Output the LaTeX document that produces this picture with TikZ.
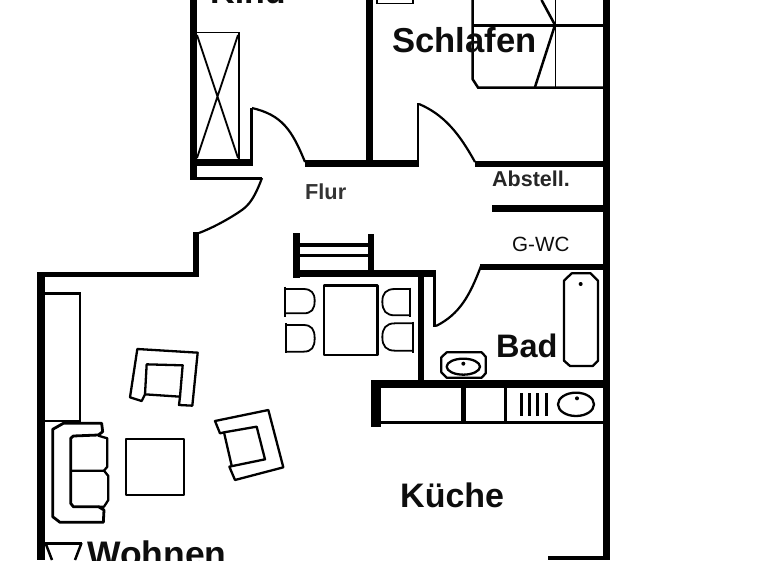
\documentclass[tikz,border=0pt]{standalone}
\usepackage{fontspec}
\setmainfont{Liberation Sans}
\tikzset{
  wall/.style={fill=black,draw=none},
  thinl/.style={draw=black,line width=1.8pt},
  med/.style={draw=black,line width=2.5pt},
  door/.style={draw=black,line width=2.2pt},
  zooma/.style={shift={(30,260)},x=0.33333pt,y=-0.33333pt},
  zoomb/.style={shift={(270,260)},x=0.33333pt,y=-0.33333pt},
  furn/.style={draw=black,line width=2.3pt,line join=round},
  seat/.style={draw=black,line width=1.8pt},
  lab/.style={anchor=base west,inner sep=0pt,text=black!95},
}
\begin{document}
\begin{tikzpicture}[x=1pt,y=-1pt]
\useasboundingbox (0,0) rectangle (768,560);
\clip (0,0) rectangle (768,560);
\fill[white] (0,0) rectangle (768,560);
% walls
\fill[wall] (190,0) rectangle (197,178);
\fill[wall] (197,159) rectangle (252,166);
\fill[wall] (250,108) rectangle (252.5,166);
\fill[wall] (305,160) rectangle (419,167);
\fill[wall] (366,0) rectangle (373,165);
\fill[wall] (417,103) rectangle (419,167);
\fill[wall] (475,160.5) rectangle (606,167);
\fill[wall] (603,0) rectangle (610,560);
\fill[wall] (492,205) rectangle (606,212);
\fill[wall] (190,177) rectangle (262,179.5);
\fill[wall] (193,232) rectangle (199,277);
\fill[wall] (37,272) rectangle (199,277);
\fill[wall] (37,272) rectangle (45,560);
% stairs
\fill[wall] (293,233) rectangle (300,278);
\fill[wall] (368,234) rectangle (374,272);
\fill[wall] (300,243) rectangle (368,246.5);
\fill[wall] (300,254) rectangle (368,256.5);
\fill[wall] (293,270) rectangle (436,277);
\fill[wall] (433,270) rectangle (436,327);
\fill[wall] (418,277) rectangle (424,382);
\fill[wall] (480,264) rectangle (606,270);
% kitchen
\fill[wall] (371,380) rectangle (606,388);
\fill[wall] (371,380) rectangle (380.5,427);
\fill[wall] (380,421) rectangle (606,423.5);
\fill[wall] (461,385) rectangle (466,423);
\fill[wall] (504,385) rectangle (506.5,423);
\fill[wall] (548,556) rectangle (606,560);
% door arcs
\draw[door] (252,108) .. controls (282,115) and (292,130) .. (305,162);
\draw[door] (419,104) .. controls (445,115) and (460,135) .. (475,162);
\draw[door] (262,178) .. controls (252,205) and (245,208) .. (236,214) .. controls (225,221) and (212,228) .. (199,233);
\draw[door] (436,326) .. controls (460,314) and (470,295) .. (481,266);
% wardrobe in Kind
\draw[thinl] (197,32.5) -- (239,32.5) -- (239,160);
\draw[thinl] (197,35) -- (238,158) (238,35) -- (197,158);
% bed
\draw[med] (472.5,0) -- (472.5,79) -- (478,87.5) -- (603,87.5);
\draw[med,line width=3pt] (473,25) -- (603,25);
\draw[draw=black,line width=1.2pt] (555.5,0) -- (555.5,87);
\draw[med] (541.5,0) -- (555,25) -- (535,87);
\draw[thinl] (377,0) -- (377,3.5) -- (413,3.5) -- (413,0);
% Wohnen furniture
\draw[med] (45,293.5) -- (80,293.5) -- (80,421) -- (45,421);
\fill[wall] (45,542) rectangle (82,544.5);
\draw[med] (45.5,543) -- (52,560) (81.5,543) -- (75,560);
\begin{scope}[zooma]
  \draw[furn,line width=2.8pt] (215,490) -- (100,490) -- (68,508) -- (68,770) -- (90,787) -- (220,787) -- (222,750) -- (205,740) -- (130,740) -- (122,730) -- (122,535) -- (130,528) -- (205,525) -- (218,515) -- cycle;
  \draw[furn] (205,527) -- (232,535) -- (232,620) -- (222,632) -- (125,632);
  \draw[furn] (222,632) -- (235,648) -- (235,720) -- (222,740) -- (205,740);
  \draw[furn,line width=2.8pt] (288,537) rectangle (462,705);
  \draw[furn] (322,267) -- (503,278) -- (487,437) -- (447,435) -- (450,410) -- (345,403) -- (335,423) -- (300,412) -- cycle;
  \draw[furn] (345,403) -- (350,313) -- (458,316) -- (450,410);
  \draw[furn] (555,483) -- (715,450) -- (760,622) -- (615,660) -- (598,620) -- (705,598) -- (680,500) -- (582,517) -- (570,520) -- cycle;
  \draw[furn] (582,517) -- (605,617);
\end{scope}
% dining and bath
\begin{scope}[zoomb]
  \draw[furn,line width=2.8pt] (162,77) rectangle (322,285);
  \draw[furn] (45,80) -- (45,170);
  \draw[seat] (45,87) -- (100,87) .. controls (125,87) and (134,100) .. (134,122) .. controls (134,148) and (125,160) .. (100,160) -- (45,160);
  \draw[furn] (47,190) -- (47,280);
  \draw[seat] (47,195) -- (100,195) .. controls (125,195) and (134,208) .. (134,235) .. controls (134,262) and (125,275) .. (100,275) -- (47,275);
  \draw[furn] (420,83) -- (420,170);
  \draw[seat] (420,87) -- (375,87) .. controls (348,87) and (337,100) .. (337,125) .. controls (337,152) and (348,166) .. (375,166) -- (420,166);
  \draw[furn] (428,185) -- (428,278);
  \draw[seat] (428,190) -- (375,190) .. controls (348,190) and (337,205) .. (337,231) .. controls (337,258) and (348,272) .. (375,272) -- (428,272);
  % tub
  \draw[furn] (905,40) -- (962,40) -- (984,62) -- (984,302) -- (968,318) -- (900,318) -- (882,302) -- (882,62) -- cycle;
  \fill (932,72) circle (2pt);
  % basin
  \draw[furn] (530,277) -- (635,277) -- (647,290) -- (647,340) -- (635,353) -- (530,353) -- (514,337) -- (514,292) -- cycle;
  \draw[furn] (580,320) ellipse (50 and 24);
  \fill (580,311) circle (2pt);
  % stove
  \draw[furn,line width=2.4pt] (754,400) -- (754,467) (778,400) -- (778,467) (802,400) -- (802,467) (829,400) -- (829,467);
  \draw[furn] (918,433) ellipse (54 and 35);
  \fill (921,415) circle (2pt);
\end{scope}
% labels
\node[lab,font=\bfseries\fontsize{34}{34}\selectfont] (kind) at (210,3) {Kind};
\node[lab,font=\bfseries\fontsize{34.6}{34.6}\selectfont] (schlafen) at (392,52) {Schlafen};
\node[lab,font=\bfseries\fontsize{21.7}{22}\selectfont,text=black!80] (flur) at (305,199) {Flur};
\node[lab,font=\bfseries\fontsize{21.5}{21.5}\selectfont,text=black!85] (abstell) at (492,186) {Abstell.};
\node[lab,font=\fontsize{20.6}{21}\selectfont] (gwc) at (512,251) {G-WC};
\node[lab,font=\bfseries\fontsize{32.5}{33}\selectfont] (bad) at (496,357) {Bad};
\node[lab,font=\bfseries\fontsize{34}{34}\selectfont] (kueche) at (400,507) {Küche};
\node[lab,font=\bfseries\fontsize{35.5}{36}\selectfont] (wohnen) at (87,566) {Wohnen};
\end{tikzpicture}
\end{document}
